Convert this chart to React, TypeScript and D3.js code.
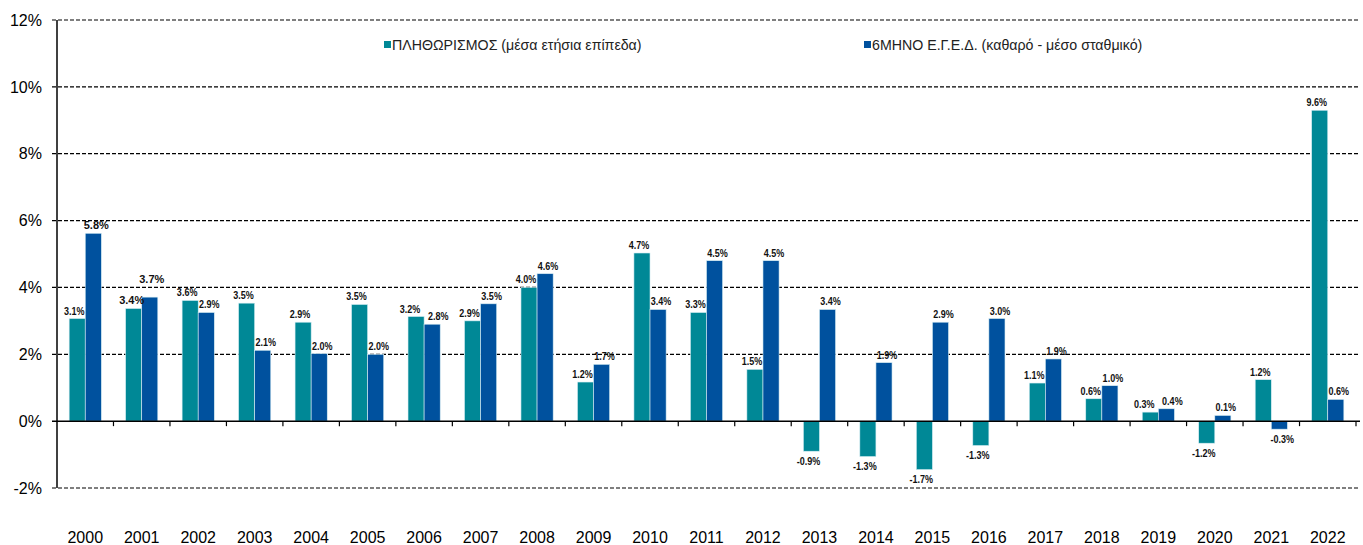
import React from "react";
import * as d3 from "d3";

const years = ["2000","2001","2002","2003","2004","2005","2006","2007","2008","2009","2010","2011","2012","2013","2014","2015","2016","2017","2018","2019","2020","2021","2022"];
const inflation = [3.07,3.37,3.61,3.53,2.96,3.49,3.13,3.0,4.0,1.17,5.03,3.25,1.55,-0.9,-1.06,-1.45,-0.73,1.14,0.67,0.27,-0.66,1.24,9.3];
const inflationLabels = ["3.1%","3.4%","3.6%","3.5%","2.9%","3.5%","3.2%","2.9%","4.0%","1.2%","4.7%","3.3%","1.5%","-0.9%","-1.3%","-1.7%","-1.3%","1.1%","0.6%","0.3%","-1.2%","1.2%","9.6%"];
const bonds = [5.62,3.71,3.25,2.12,2.02,2.0,2.9,3.51,4.41,1.70,3.34,4.8,4.8,3.34,1.75,2.96,3.07,1.86,1.06,0.37,0.17,-0.24,0.65];
const bondLabels = ["5.8%","3.7%","2.9%","2.1%","2.0%","2.0%","2.8%","3.5%","4.6%","1.7%","3.4%","4.5%","4.5%","3.4%","1.9%","2.9%","3.0%","1.9%","1.0%","0.4%","0.1%","-0.3%","0.6%"];
// labels drawn in the wider (non-narrow) bold face in the reference
const wideInflationLabels = ["2001"];
const wideBondLabels = ["2000", "2001"];
const yTicks = [-2,0,2,4,6,8,10,12];
const seriesNames = ["ΠΛΗΘΩΡΙΣΜΟΣ (μέσα ετήσια επίπεδα)", "6ΜΗΝΟ Ε.Γ.Ε.Δ. (καθαρό - μέσο σταθμικό)"];
const seriesColors = ["#008896", "#00519E"];

export default function App() {
  const W = 1363, H = 545;
  const left = 57, right = 1356, top = 20, bottom = 488;
  const y = d3.scaleLinear().domain([-2, 12]).range([bottom, top]);
  const x = d3.scaleBand<string>().domain(years).range([left, right]).paddingInner(0.43).paddingOuter(0.215);
  const inner = d3.scaleBand<string>().domain(["a", "b"]).range([0, x.bandwidth()]);
  const step = x.step();
  const y0 = y(0);
  const bw = inner.bandwidth();
  const series = [
    { key: "a", values: inflation, labels: inflationLabels, color: seriesColors[0], wide: wideInflationLabels },
    { key: "b", values: bonds, labels: bondLabels, color: seriesColors[1], wide: wideBondLabels },
  ];
  const font = "'Liberation Sans', Arial, sans-serif";

  // label layout
  const labelEls: React.ReactNode[] = [];
  years.forEach((yr, i) => {
    const gx = x(yr) as number;
    const info = series.map((s, si) => {
      const v = s.values[i];
      const cx = gx + (inner(s.key) as number) + bw / 2;
      const ly = v >= 0 ? y(v) - 4 : y(v) + 13.5;
      const wide = s.wide.includes(yr);
      return { cx, ly, wide, text: s.labels[i], si, v };
    });
    const [a, b] = info;
    let shift = 3;
    if (Math.abs(a.ly - b.ly) < 11.5) {
      if (a.wide || b.wide) {
        // raise the higher label
        if (a.ly < b.ly) a.ly = b.ly - 21; else b.ly = a.ly - 21;
        shift = 2;
      } else {
        shift = 6;
      }
    }
    a.cx -= shift;
    b.cx += shift;
    info.forEach((l) => {
      const sx = l.wide ? 1 : 0.82;
      labelEls.push(
        <text key={"l" + yr + l.si} x={l.cx} y={l.ly} textAnchor="middle" fontSize={11} fontWeight="bold" fill="#111"
          transform={`translate(${l.cx},0) scale(${sx},1) translate(${-l.cx},0)`}>{l.text}</text>
      );
    });
  });

  return (
    <svg width={W} height={H} style={{ position: "absolute", left: 0, top: 0, background: "#fff" }} fontFamily={font}>
      {yTicks.map((t) => (
        <g key={t}>
          {t !== 0 && (
            <line x1={left - 5} x2={1360} y1={y(t)} y2={y(t)} stroke="#000" strokeWidth={1.2} strokeDasharray="4,2" />
          )}
          <text x={42} y={y(t)} dy="0.36em" textAnchor="end" fontSize={16} fill="#000">{t}%</text>
        </g>
      ))}
      {series.map((s) =>
        s.values.map((v, i) => {
          const bx = (x(years[i]) as number) + (inner(s.key) as number);
          return (
            <rect key={s.key + i} x={bx} y={Math.min(y(v), y0)} width={bw} height={Math.abs(y(v) - y0)} fill={s.color} stroke="#d8eef4" strokeWidth={0.6} />
          );
        })
      )}
      {labelEls}
      <line x1={left} x2={left} y1={top} y2={bottom} stroke="#000" strokeWidth={1.5} />
      <line x1={left - 5} x2={1360} y1={y0} y2={y0} stroke="#000" strokeWidth={1.5} />
      {years.map((yr, i) => (
        <g key={yr}>
          <line x1={left + (i + 1) * step} x2={left + (i + 1) * step} y1={y0} y2={y0 + 5} stroke="#000" strokeWidth={1.2} />
          <text x={(x(yr) as number) + x.bandwidth() / 2} y={543} textAnchor="middle" fontSize={16} fill="#000">{yr}</text>
        </g>
      ))}
      {seriesNames.map((n, i) => {
        const lx = i === 0 ? 384 : 864;
        return (
          <g key={n}>
            <rect x={lx} y={41} width={7} height={7} fill={seriesColors[i]} />
            <text x={lx + 8} y={50} fontSize={14.2} fill="#222">{n}</text>
          </g>
        );
      })}
    </svg>
  );
}
